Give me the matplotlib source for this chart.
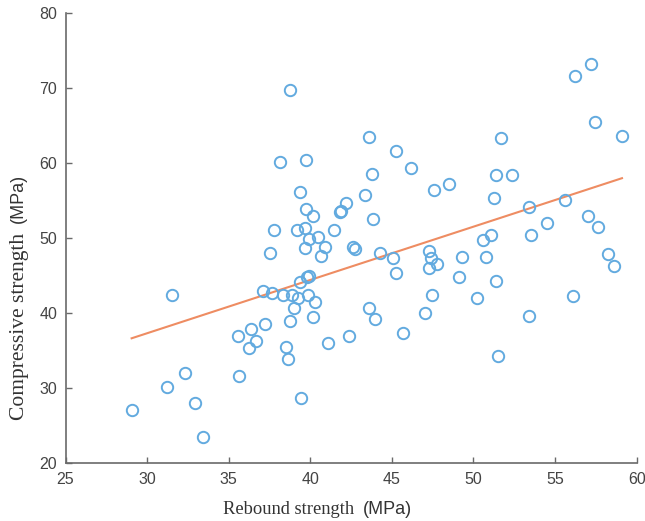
import numpy as np
import matplotlib.pyplot as plt

# rebound strength (MPa) vs compressive strength (MPa)
rebound = [38.75, 43.57, 45.28, 46.16, 38.14, 39.75, 43.77, 39.34, 43.36, 42.16,
           57.22, 56.2, 57.42, 59.12, 51.71, 51.4, 52.38, 47.57, 48.48, 51.28,
           55.6, 39.75, 40.16, 41.9, 41.8, 43.85, 37.77, 39.19, 39.67, 39.91,
           40.48, 41.46, 39.65, 40.87, 40.67, 37.52, 42.62, 42.73, 44.26, 45.05,
           45.28, 39.34, 39.8, 39.9, 37.11, 37.66, 38.34, 38.85, 39.26, 39.87,
           40.26, 39.03, 40.16, 38.75, 37.24, 43.57, 43.97, 42.36, 41.06, 45.67,
           35.56, 36.34, 36.67, 36.24, 38.54, 38.64, 35.64, 39.45, 47.0, 53.4,
           57.02, 57.63, 54.49, 53.51, 51.07, 50.58, 47.28, 47.42, 47.79, 47.28,
           49.28, 50.79, 49.1, 51.4, 58.24, 58.63, 47.48, 50.2, 56.1, 53.4,
           51.48, 31.52, 32.32, 31.23, 29.05, 32.95, 33.44]
compressive = [69.7, 63.45, 61.54, 59.36, 60.12, 60.43, 58.56, 56.13, 55.77, 54.62,
               73.13, 71.57, 65.49, 63.58, 63.36, 58.43, 58.43, 56.44, 57.15, 55.3,
               55.0, 53.86, 52.93, 53.6, 53.4, 52.53, 51.1, 51.02, 51.33, 49.9,
               50.17, 51.1, 48.63, 48.76, 47.6, 48.05, 48.84, 48.5, 47.96, 47.38,
               45.34, 44.1, 44.8, 44.9, 42.99, 42.64, 42.45, 42.41, 42.05, 42.41,
               41.52, 40.72, 39.52, 38.95, 38.59, 40.64, 39.21, 36.95, 35.98, 37.39,
               36.99, 37.92, 36.24, 35.31, 35.53, 33.89, 31.67, 28.7, 39.97, 54.09,
               52.93, 51.5, 51.96, 50.44, 50.44, 49.69, 48.31, 47.3, 46.54, 45.96,
               47.43, 47.51, 44.8, 44.23, 47.83, 46.31, 42.37, 42.05, 42.28, 39.57,
               34.29, 42.45, 31.98, 30.16, 27.14, 28.07, 23.46]

# fitted trend line end points
fit_x = [29.05, 59.1]
fit_y = [36.64, 57.95]

x_ticks = [25, 30, 35, 40, 45, 50, 55, 60]
y_ticks = [20, 30, 40, 50, 60, 70, 80]

fig = plt.figure(figsize=(6.45, 5.21), dpi=100)
ax = fig.add_axes([0.1016, 0.1107, 0.8855, 0.8653])

ax.plot(fit_x, fit_y, color='#EE8C62', linewidth=1.5, zorder=2)
ax.plot(rebound, compressive, linestyle='none', marker='o', markersize=8.2,
        markerfacecolor='none', markeredgecolor='#62AADF', markeredgewidth=1.4, zorder=3)

ax.set_xlim(25, 60)
ax.set_ylim(20, 80)
ax.set_xticks(x_ticks)
ax.set_yticks(y_ticks)

for side in ['top', 'right']:
    ax.spines[side].set_visible(False)
for side in ['left', 'bottom']:
    ax.spines[side].set_color('#6a6a6a')
    ax.spines[side].set_linewidth(1.2)

ax.tick_params(direction='in', length=4, width=1, color='#6a6a6a',
               labelcolor='#444444', labelsize=11.5, pad=6)
for lab in ax.get_xticklabels() + ax.get_yticklabels():
    lab.set_family('Liberation Sans')

# axis labels: serif words, sans unit
xl = fig.text(0.345, 0.006, 'Rebound strength  ', family='Liberation Serif',
              fontsize=13.3, color='#333333', ha='left', va='bottom')
ax.annotate('(MPa)', xy=(1, 0), xycoords=xl, ha='left', va='bottom',
            family='Liberation Sans', fontsize=13, color='#333333')

yl = fig.text(0.016, 0.193, 'Compressive strength  ', family='Liberation Serif',
              fontsize=15.5, color='#333333', ha='left', va='bottom', rotation=90)
ax.annotate('(MPa)', xy=(0, 1), xycoords=yl, ha='left', va='bottom',
            family='Liberation Sans', fontsize=13, color='#333333', rotation=90)

fig.savefig('out.png', dpi=100)
